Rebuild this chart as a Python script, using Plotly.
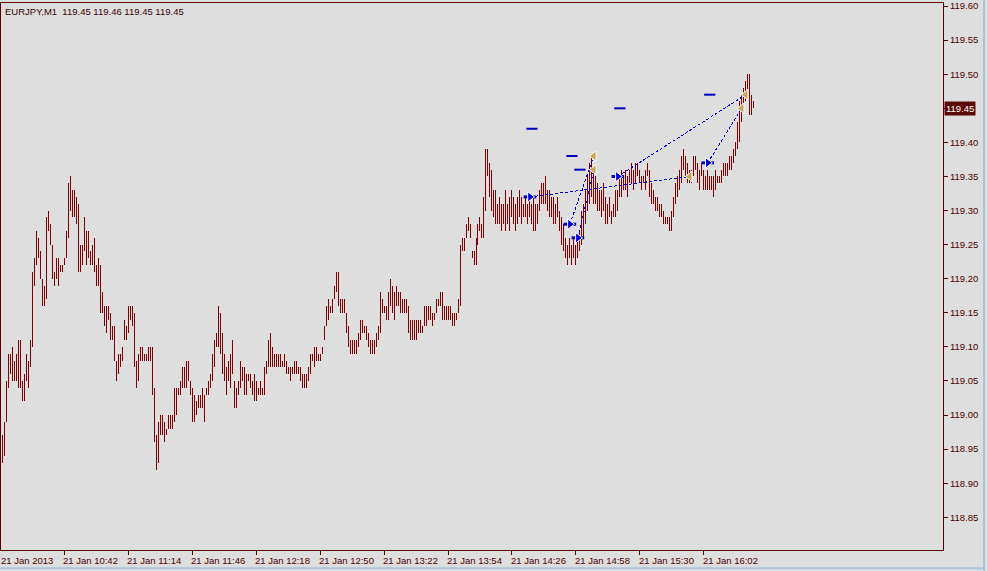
import plotly.graph_objects as go

# ---------------- data (EURJPY M1, bar index from left edge) ----------------
HIGH = [
    118.97, 118.99, 119.05, 119.09, 119.09, 119.10, 119.08, 119.09, 119.11, 119.11,
    119.05, 119.06, 119.09, 119.08, 119.11, 119.21, 119.23, 119.27, 119.26, 119.24,
    119.20, 119.19, 119.29, 119.30, 119.28, 119.25, 119.21, 119.23, 119.23, 119.22,
    119.22, 119.23, 119.27, 119.34, 119.35, 119.33, 119.33, 119.32, 119.31, 119.25,
    119.25, 119.29, 119.27, 119.27, 119.24, 119.25, 119.26, 119.22, 119.23, 119.22,
    119.18, 119.16, 119.16, 119.16, 119.15, 119.13, 119.13, 119.08, 119.09, 119.09,
    119.10, 119.14, 119.13, 119.16, 119.16, 119.16, 119.15, 119.08, 119.09, 119.10,
    119.10, 119.09, 119.09, 119.10, 119.10, 119.10, 119.04, 118.97, 118.99, 119.00,
    119.00, 118.99, 118.98, 119.00, 119.00, 119.00, 119.04, 119.04, 119.04, 119.05,
    119.07, 119.07, 119.08, 119.08, 119.05, 119.04, 119.03, 119.02, 119.03, 119.03,
    119.04, 119.03, 119.04, 119.05, 119.06, 119.09, 119.11, 119.12, 119.16, 119.15,
    119.12, 119.09, 119.07, 119.08, 119.09, 119.11, 119.05, 119.04, 119.05, 119.08,
    119.07, 119.07, 119.06, 119.06, 119.06, 119.05, 119.06, 119.05, 119.04, 119.05,
    119.04, 119.07, 119.08, 119.11, 119.12, 119.10, 119.09, 119.09, 119.09, 119.09,
    119.08, 119.09, 119.08, 119.07, 119.07, 119.07, 119.08, 119.08, 119.07, 119.07,
    119.06, 119.06, 119.06, 119.07, 119.09, 119.09, 119.10, 119.10, 119.09, 119.09,
    119.10, 119.13, 119.16, 119.17, 119.16, 119.17, 119.19, 119.21, 119.21, 119.17,
    119.17, 119.17, 119.15, 119.13, 119.11, 119.11, 119.11, 119.11, 119.12, 119.14,
    119.14, 119.13, 119.13, 119.12, 119.11, 119.11, 119.11, 119.12, 119.13, 119.18,
    119.17, 119.16, 119.16, 119.18, 119.20, 119.19, 119.18, 119.19, 119.18, 119.18,
    119.17, 119.17, 119.17, 119.16, 119.14, 119.14, 119.14, 119.14, 119.14, 119.14,
    119.13, 119.16, 119.16, 119.16, 119.16, 119.15, 119.15, 119.17, 119.17, 119.18,
    119.18, 119.16, 119.16, 119.16, 119.16, 119.15, 119.15, 119.15, 119.17, 119.25,
    119.26, 119.26, 119.28, 119.29, 119.28, 119.24, 119.24, 119.26, 119.28, 119.29,
    119.28, 119.32, 119.39, 119.39, 119.37, 119.36, 119.33, 119.33, 119.31, 119.32,
    119.31, 119.31, 119.33, 119.31, 119.32, 119.33, 119.32, 119.31, 119.32, 119.33,
    119.32, 119.31, 119.32, 119.31, 119.32, 119.31, 119.32, 119.31, 119.31, 119.33,
    119.34, 119.34, 119.35, 119.33, 119.33, 119.32, 119.32, 119.31, 119.32, 119.30,
    119.29, 119.28, 119.26, 119.25, 119.26, 119.25, 119.26, 119.25, 119.26, 119.27,
    119.30, 119.31, 119.33, 119.35, 119.37, 119.38, 119.36, 119.35, 119.34, 119.33,
    119.33, 119.34, 119.32, 119.31, 119.32, 119.30, 119.31, 119.33, 119.33, 119.35,
    119.36, 119.35, 119.36, 119.35, 119.36, 119.37, 119.36, 119.37, 119.37, 119.36,
    119.35, 119.35, 119.36, 119.37, 119.36, 119.34, 119.33, 119.32, 119.32, 119.31,
    119.31, 119.30, 119.29, 119.29, 119.29, 119.30, 119.32, 119.34, 119.35, 119.36,
    119.38, 119.39, 119.38, 119.37, 119.36, 119.36, 119.38, 119.38, 119.37, 119.36,
    119.37, 119.36, 119.35, 119.36, 119.35, 119.35, 119.35, 119.36, 119.35, 119.35,
    119.36, 119.37, 119.37, 119.37, 119.38, 119.38, 119.39, 119.40, 119.43, 119.46,
    119.47, 119.48, 119.49, 119.50, 119.50, 119.47, 119.46,
]
LOW = [
    118.93, 118.94, 118.99, 119.04, 119.06, 119.05, 119.05, 119.05, 119.04, 119.04,
    119.02, 119.02, 119.05, 119.04, 119.07, 119.10, 119.19, 119.22, 119.23, 119.20,
    119.16, 119.16, 119.17, 119.27, 119.25, 119.20, 119.19, 119.20, 119.19, 119.21,
    119.21, 119.22, 119.23, 119.26, 119.30, 119.29, 119.29, 119.28, 119.21, 119.21,
    119.22, 119.24, 119.22, 119.23, 119.22, 119.22, 119.21, 119.19, 119.19, 119.15,
    119.15, 119.13, 119.12, 119.14, 119.11, 119.11, 119.08, 119.05, 119.06, 119.07,
    119.08, 119.11, 119.11, 119.12, 119.14, 119.13, 119.07, 119.04, 119.05, 119.08,
    119.08, 119.08, 119.08, 119.08, 119.08, 119.03, 118.96, 118.92, 118.93, 118.97,
    118.97, 118.96, 118.97, 118.98, 118.98, 118.98, 118.99, 119.00, 119.03, 119.03,
    119.04, 119.04, 119.04, 119.05, 119.03, 118.99, 118.99, 119.00, 119.01, 119.01,
    119.01, 118.99, 119.03, 119.03, 119.04, 119.05, 119.07, 119.10, 119.10, 119.09,
    119.06, 119.05, 119.03, 119.05, 119.04, 119.06, 119.01, 119.01, 119.03, 119.04,
    119.05, 119.03, 119.03, 119.05, 119.04, 119.03, 119.02, 119.02, 119.03, 119.03,
    119.03, 119.03, 119.06, 119.07, 119.07, 119.07, 119.07, 119.07, 119.07, 119.07,
    119.07, 119.07, 119.06, 119.06, 119.05, 119.06, 119.06, 119.06, 119.06, 119.05,
    119.04, 119.04, 119.04, 119.05, 119.06, 119.08, 119.07, 119.08, 119.08, 119.08,
    119.09, 119.11, 119.13, 119.14, 119.15, 119.15, 119.17, 119.18, 119.16, 119.15,
    119.15, 119.15, 119.12, 119.10, 119.09, 119.09, 119.09, 119.09, 119.10, 119.11,
    119.12, 119.12, 119.11, 119.10, 119.09, 119.09, 119.09, 119.10, 119.11, 119.12,
    119.15, 119.15, 119.14, 119.14, 119.16, 119.15, 119.14, 119.16, 119.16, 119.15,
    119.15, 119.15, 119.15, 119.12, 119.11, 119.11, 119.11, 119.11, 119.12, 119.12,
    119.12, 119.13, 119.13, 119.14, 119.14, 119.13, 119.14, 119.15, 119.16, 119.16,
    119.14, 119.14, 119.14, 119.14, 119.14, 119.13, 119.13, 119.14, 119.15, 119.16,
    119.24, 119.24, 119.26, 119.27, 119.26, 119.23, 119.22, 119.22, 119.25, 119.27,
    119.26, 119.26, 119.30, 119.35, 119.32, 119.30, 119.29, 119.28, 119.28, 119.28,
    119.27, 119.28, 119.27, 119.28, 119.27, 119.29, 119.28, 119.27, 119.28, 119.29,
    119.28, 119.29, 119.29, 119.28, 119.29, 119.28, 119.27, 119.27, 119.28, 119.30,
    119.31, 119.31, 119.31, 119.30, 119.29, 119.29, 119.28, 119.28, 119.29, 119.27,
    119.25, 119.24, 119.23, 119.22, 119.23, 119.22, 119.23, 119.22, 119.23, 119.24,
    119.25, 119.26, 119.28, 119.30, 119.31, 119.32, 119.31, 119.31, 119.30, 119.30,
    119.29, 119.30, 119.28, 119.28, 119.29, 119.28, 119.29, 119.29, 119.30, 119.32,
    119.32, 119.33, 119.33, 119.32, 119.34, 119.34, 119.33, 119.34, 119.35, 119.34,
    119.33, 119.34, 119.33, 119.35, 119.32, 119.31, 119.31, 119.30, 119.30, 119.29,
    119.29, 119.28, 119.28, 119.28, 119.27, 119.27, 119.29, 119.31, 119.32, 119.33,
    119.34, 119.36, 119.35, 119.34, 119.34, 119.34, 119.35, 119.36, 119.34, 119.33,
    119.35, 119.33, 119.33, 119.33, 119.33, 119.33, 119.32, 119.33, 119.34, 119.34,
    119.34, 119.35, 119.35, 119.35, 119.36, 119.36, 119.37, 119.38, 119.39, 119.40,
    119.43, 119.45, 119.46, 119.47, 119.44, 119.44, 119.45,
]
BAR_INDEX = list(range(len(HIGH)))

# trades drawn on the chart (bar index, price)
BUY_BAR = [264, 284, 288, 308, 353]
BUY_PRICE = [119.32, 119.28, 119.26, 119.35, 119.37]
TP_BAR = [265, 285, 289, 309, 354]
TP_PRICE = [119.42, 119.38, 119.36, 119.45, 119.47]
CLOSE_BAR = [344, 296, 296, 372, 370]
CLOSE_PRICE = [119.35, 119.38, 119.36, 119.47, 119.45]

TIME_TICK_BARS = [-1, 31, 63, 95, 127, 159, 191, 223, 255, 287, 319, 351]
TIME_TICK_LABELS = ["21 Jan 2013", "21 Jan 10:42", "21 Jan 11:14", "21 Jan 11:46",
                    "21 Jan 12:18", "21 Jan 12:50", "21 Jan 13:22", "21 Jan 13:54",
                    "21 Jan 14:26", "21 Jan 14:58", "21 Jan 15:30", "21 Jan 16:02"]
PRICE_TICKS = [118.85, 118.90, 118.95, 119.00, 119.05, 119.10, 119.15, 119.20,
               119.25, 119.30, 119.35, 119.40, 119.45, 119.50, 119.55, 119.60]

SYMBOL = "EURJPY,M1"
LAST_OHLC = [119.45, 119.46, 119.45, 119.45]
CURRENT_PRICE = 119.45

# the current-price box replaces the plain tick label at that level
PRICE_TICK_LABELS = ["" if abs(v - CURRENT_PRICE) < 1e-9 else "%.2f" % v for v in PRICE_TICKS]

# ---------------- style ----------------
BG = "#DEDEDE"
BAR_COLOR = "#7E0000"
AXIS_COLOR = "#5A0000"
TEXT_COLOR = "#4A0000"
FONT = "Liberation Sans"
FS = 9.5

fig = go.Figure()

# high-low bars as vertical line segments, split into two traces
half = len(BAR_INDEX) // 2
for part in (slice(0, half), slice(half, None)):
    bx, by = [], []
    for i, h, l in zip(BAR_INDEX[part], HIGH[part], LOW[part]):
        bx += [i, i, None]
        by += [l, h, None]
    fig.add_trace(go.Scatter(x=bx, y=by, mode="lines",
                             line=dict(color=BAR_COLOR, width=1, simplify=False),
                             hoverinfo="skip"))

# dashed trade lines
for b0, p0, b1, p1 in zip(BUY_BAR, BUY_PRICE, CLOSE_BAR, CLOSE_PRICE):
    fig.add_trace(go.Scatter(x=[b0, b1], y=[p0, p1], mode="lines",
                             line=dict(color="#0000D0", width=1, dash="3px,2px"),
                             hoverinfo="skip"))

# take-profit dashes
fig.add_trace(go.Scatter(x=TP_BAR, y=TP_PRICE, mode="markers",
                         marker=dict(symbol="line-ew", size=8,
                                     line=dict(color="#0000C0", width=2))))
# close markers
fig.add_trace(go.Scatter(x=CLOSE_BAR, y=CLOSE_PRICE, mode="markers",
                         marker=dict(symbol="triangle-left", size=9, color="#C9A65C",
                                     line=dict(color="#FFFFFF", width=1))))
# buy arrows: shaft + head
fig.add_trace(go.Scatter(x=BUY_BAR, y=BUY_PRICE, mode="markers",
                         marker=dict(symbol="line-ew", size=9,
                                     line=dict(color="#0000C8", width=3))))
fig.add_trace(go.Scatter(x=BUY_BAR, y=BUY_PRICE, mode="markers",
                         marker=dict(symbol="triangle-right", size=9, color="#0000C8",
                                     line=dict(color="#FFFFFF", width=1))))

annotations = []
for k, (b, lab) in enumerate(zip(TIME_TICK_BARS, TIME_TICK_LABELS)):
    if k == 0:
        annotations.append(dict(x=0, xref="paper", y=0, yref="paper", text=lab,
                                xanchor="left", yanchor="top", xshift=-2, yshift=-3,
                                showarrow=False, font=dict(family=FONT, size=FS, color=TEXT_COLOR)))
    else:
        annotations.append(dict(x=b, xref="x", y=0, yref="paper", text=lab,
                                xanchor="left", yanchor="top", xshift=-3, yshift=-3,
                                showarrow=False, font=dict(family=FONT, size=FS, color=TEXT_COLOR)))

annotations.append(dict(x=0, xref="paper", y=1, yref="paper",
                        text=SYMBOL + "  " + " ".join("%.2f" % v for v in LAST_OHLC),
                        xanchor="left", yanchor="top", xshift=2, yshift=-1,
                        showarrow=False, font=dict(family=FONT, size=FS, color="#3A0000")))
annotations.append(dict(x=1, xref="paper", y=CURRENT_PRICE, yref="y",
                        text="%.2f" % CURRENT_PRICE, xanchor="left", yanchor="middle",
                        xshift=1, showarrow=False, bgcolor="#5C0808", borderpad=1,
                        font=dict(family=FONT, size=FS, color="#FFFFFF")))

fig.update_layout(
    width=987, height=571,
    margin=dict(l=0, r=44, t=1, b=21),
    paper_bgcolor=BG, plot_bgcolor=BG,
    showlegend=False,
    annotations=annotations,
    xaxis=dict(range=[-0.75, 470.75], showgrid=False, zeroline=False,
               showline=True, mirror=True, linecolor=AXIS_COLOR, linewidth=1,
               tickmode="array", tickvals=TIME_TICK_BARS, ticks="outside",
               ticklen=4, tickcolor=AXIS_COLOR, showticklabels=False),
    yaxis=dict(range=[118.802, 119.6045], side="right", showgrid=False, zeroline=False,
               showline=True, mirror=True, linecolor=AXIS_COLOR, linewidth=1,
               tickmode="array", tickvals=PRICE_TICKS, ticktext=PRICE_TICK_LABELS,
               ticks="outside", ticklen=4, tickcolor=AXIS_COLOR,
               ticklabeloverflow="allow",
               tickfont=dict(family=FONT, size=FS, color=TEXT_COLOR)),
    shapes=[
        dict(type="line", xref="paper", yref="paper", x0=1.0435, x1=1.0435, y0=-0.04, y1=1.01,
             line=dict(color="#A8C4DE", width=2)),
        dict(type="line", xref="paper", yref="paper", x0=-0.01, x1=1.0435, y0=-0.0335, y1=-0.0335,
             line=dict(color="#A8C4DE", width=2)),
    ],
)

fig.write_html(
    "out.html",
    config={"displayModeBar": False},
    post_script=(
        "document.body.style.margin='0px';document.body.style.overflow='hidden';"
        "var st=document.createElement('style');"
        "st.textContent='.scatterlayer path.js-line{shape-rendering:crispEdges !important;}';"
        "document.head.appendChild(st);"
    ),
)
